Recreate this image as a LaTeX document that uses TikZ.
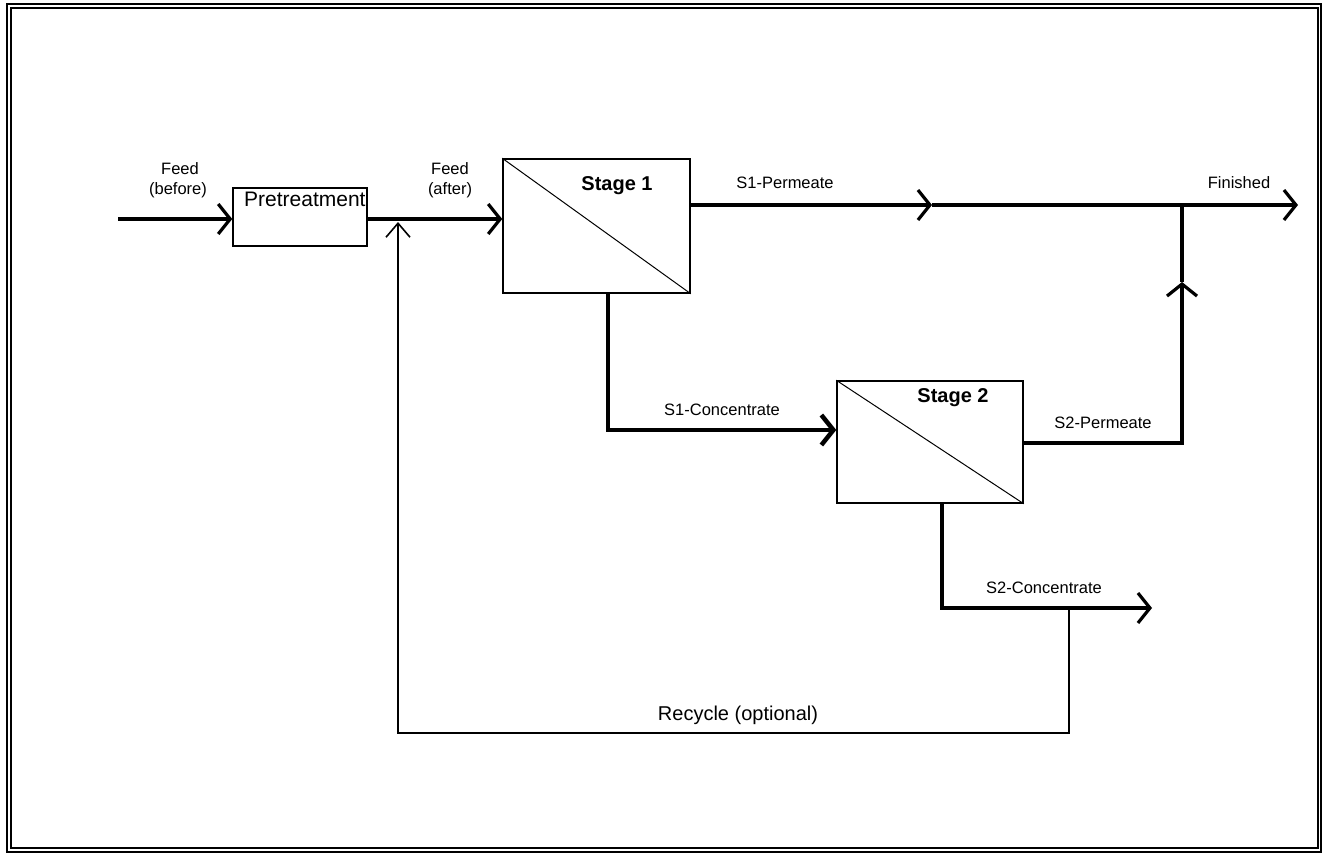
\documentclass[tikz,border=0pt]{standalone}
\usepackage{fontspec}
\setmainfont{Liberation Sans}
\usetikzlibrary{arrows.meta}
\begin{document}
\begin{tikzpicture}[x=1pt,y=-1pt,
  flow/.style={line width=3.2pt},
  flowthick/.style={line width=4.5pt},
  thinflow/.style={line width=1.6pt},
  tip/.style={-{Straight Barb[length=12pt,width=30pt]}},
  tipthin/.style={-{Straight Barb[length=14pt,width=24pt]}},
  frame/.style={line width=2pt},
  unitbox/.style={draw,line width=1.5pt,inner sep=0pt},
  diag/.style={line width=1pt},
  lbl/.style={font=\fontsize{16.5}{19}\selectfont,anchor=base,inner sep=0pt},
  stagelbl/.style={font=\fontsize{20}{24}\selectfont\bfseries,anchor=base,inner sep=0pt},
  biglbl/.style={font=\fontsize{21}{25}\selectfont,anchor=base,inner sep=0pt},
]
\useasboundingbox (0,0) rectangle (1329,853);
% double frame
\draw[frame] (6.5,4.3) rectangle (1321,851.5);
\draw[frame] (11,8.2) rectangle (1318,847.7);

% units
\node[unitbox,minimum width=134pt,minimum height=58pt] (pre) at (300,217) {};
\node[biglbl,anchor=base west] (pretxt) at (244,206) {Pretreatment};
\node[unitbox,minimum width=187pt,minimum height=134pt] (s1) at (596.5,226) {};
\node[unitbox,minimum width=186pt,minimum height=122pt] (s2) at (930,442) {};
\draw[diag] (s1.north west) -- (s1.south east);
\draw[diag] (s2.north west) -- (s2.south east);
\node[stagelbl] (s1txt) at (617,190) {Stage 1};
\node[stagelbl] (s2txt) at (953,402) {Stage 2};

% coordinates
\coordinate (fin) at (118,219);
\coordinate (jn) at (1182,205);
\coordinate (pmid) at (932,205);
\coordinate (fend) at (1298,205);
\coordinate (c1) at (608,430);
\coordinate (p2c) at (1182,443);
\coordinate (p2up) at (1182,282);
\coordinate (c2) at (942,608);
\coordinate (c2end) at (1152,608);
\coordinate (rtop) at (1069,608);
\coordinate (rbr) at (1069,733);
\coordinate (rbl) at (398,733);
\coordinate (rtip) at (398,222);

% flows
\draw[flow,tip] (fin) -- (pre.west |- fin);
\draw[flow,tip] (pre.east |- fin) -- (s1.west |- fin);
\draw[flow,tip] (s1.east |- jn) -- (pmid);
\draw[flow,tip] (pmid) -- (fend);
\draw[flowthick,tip] (c1 |- s1.south) -- (c1) -- (c1 -| s2.west);
\draw[flow,tip] (s2.east |- p2c) -- (p2c) -- (p2up);
\draw[flow] (p2up) -- (jn);
\draw[flow,tip] (c2 |- s2.south) -- (c2) -- (c2end);
\draw[thinflow,tipthin] (rtop) -- (rbr) -- (rbl) -- (rtip);

% labels
\node[lbl] (feedb) at (180,175) {Feed};
\node[lbl] (feedb2) at (178,194) {(before)};
\node[lbl] (feeda) at (450,175) {Feed};
\node[lbl] (feeda2) at (450,194) {(after)};
\node[lbl] (s1p) at (785,188) {S1-Permeate};
\node[lbl] (finl) at (1239,188) {Finished};
\node[lbl] (s1c) at (722,415) {S1-Concentrate};
\node[lbl] (s2p) at (1103,428) {S2-Permeate};
\node[lbl] (s2c) at (1044,593) {S2-Concentrate};
\node[font=\fontsize{20}{24}\selectfont,anchor=base,inner sep=0pt] (rec) at (738,720) {Recycle (optional)};
\end{tikzpicture}
\end{document}
